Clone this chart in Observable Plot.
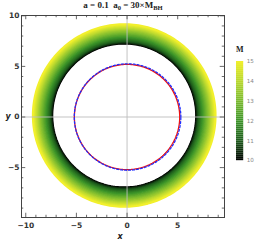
<!DOCTYPE html>
<html><head><meta charset="utf-8">
<script src="https://cdn.jsdelivr.net/npm/d3@7"></script>
<script src="https://cdn.jsdelivr.net/npm/@observablehq/plot@0.6"></script>
<style>
body{margin:0;background:#fff;}
#wrap{position:relative;width:260px;height:247px;overflow:hidden;font-family:"DejaVu Sans",sans-serif;}
#main,#bar{position:absolute;}
#title{position:absolute;left:0;width:246px;top:0;text-align:center;font-family:"Liberation Serif",serif;font-weight:bold;font-size:9px;color:#222;white-space:pre;}
#title sub{font-size:6.5px;vertical-align:-2px;}
#mlab{position:absolute;left:236px;top:45px;font-family:"Liberation Serif",serif;font-weight:bold;font-size:8px;color:#222;}
</style></head>
<body><div id="wrap"><div id="title">a = 0.1  a<sub>0</sub> = 30×M<sub>BH</sub></div><div id="mlab">M</div><div id="main"></div><div id="bar"></div></div>
<script>
// ---- data ----
const ringM = [10,10.25,10.5,10.75,11,11.25,11.5,11.75,12,12.25,12.5,12.75,13,13.25,13.5,13.75,14,14.25,14.5,14.75,15];
const ringR = [7.10,7.15,7.21,7.28,7.36,7.45,7.55,7.65,7.76,7.87,7.98,8.09,8.20,8.31,8.42,8.53,8.63,8.73,8.83,8.93,9.02];
const ringCx = -0.28, ringCy = 0.15;
const redR = 5.2, redCx = 0, redCy = 0;
const blueR = 5.26, blueCx = 0.05, blueCy = 0;
const colorStopsM = [10,11,12,13,14,15];
const colorStops = ["#000000","#1d5c1c","#3c9428","#7aba2e","#bad82f","#f2f02c"];
const xTickLabels = [-10,-5,0,5];
const yTickLabels = [-5,0,5,10];
const xDomain = [-10.42, 9.62], yDomain = [-9.93, 10.03];

const N = 240;
function circle(cx, cy, r, extra) {
  const pts = [];
  for (let i = 0; i <= N; i++) {
    const t = 2 * Math.PI * i / N;
    pts.push({x: cx + r * Math.cos(t), y: cy + r * Math.sin(t), ...extra});
  }
  return pts;
}
const ringPts = ringM.flatMap((m, i) => circle(ringCx, ringCy, ringR[i], {m}));
const redPts = circle(redCx, redCy, redR, {});
const bluePts = circle(blueCx, blueCy, blueR, {});

const minorX = d3.range(-10, 10, 1), minorY = d3.range(-9, 11, 1);
const lx = 0.42, ly = 0.42, sx = 0.22, sy = 0.22;

const main = Plot.plot({
  width: 260, height: 247,
  marginLeft: 21, marginRight: 36, marginTop: 15, marginBottom: 30,
  x: {domain: xDomain, axis: null},
  y: {domain: yDomain, axis: null},
  color: {type: "linear", domain: colorStopsM, range: colorStops},
  style: {fontFamily: "DejaVu Sans, sans-serif"},
  marks: [
    Plot.line(ringPts, {x: "x", y: "y", z: "m", stroke: "m", strokeWidth: 2}),
    Plot.ruleX([0], {stroke: "#bcbcbc", strokeWidth: 0.9}),
    Plot.ruleY([0], {stroke: "#bcbcbc", strokeWidth: 0.9}),
    Plot.line(redPts, {x: "x", y: "y", stroke: "#ee1111", strokeWidth: 1.3}),
    Plot.line(bluePts, {x: "x", y: "y", stroke: "#1f2fff", strokeWidth: 1.3, strokeDasharray: "2,2"}),
    Plot.frame({stroke: "#444", strokeWidth: 1}),
    Plot.ruleX(minorX, {x: d => d, y1: yDomain[0], y2: d => yDomain[0] + (d % 5 === 0 ? ly : sy), stroke: "#444", strokeWidth: 0.8}),
    Plot.ruleX(minorX, {x: d => d, y1: yDomain[1], y2: d => yDomain[1] - (d % 5 === 0 ? ly : sy), stroke: "#444", strokeWidth: 0.8}),
    Plot.ruleY(minorY, {y: d => d, x1: xDomain[0], x2: d => xDomain[0] + (d % 5 === 0 ? lx : sx), stroke: "#444", strokeWidth: 0.8}),
    Plot.ruleY(minorY, {y: d => d, x1: xDomain[1], x2: d => xDomain[1] - (d % 5 === 0 ? lx : sx), stroke: "#444", strokeWidth: 0.8}),
    Plot.axisX(xTickLabels, {anchor: "bottom", tickSize: 0, tickPadding: 5, label: null, fontSize: 7.5, fontWeight: "bold", fill: "#333", tickFormat: d => d < 0 ? "−" + Math.abs(d) : String(d)}),
    Plot.axisY(yTickLabels, {anchor: "left", tickSize: 0, tickPadding: 2, label: null, fontSize: 7.5, fontWeight: "bold", fill: "#333", tickFormat: d => d < 0 ? "−" + Math.abs(d) : String(d)}),
    Plot.text(["x"], {frameAnchor: "bottom", dy: 21, dx: -3, text: d => d, fontStyle: "italic", fontWeight: "bold", fontSize: 8, fill: "#222"}),
    Plot.text(["y"], {frameAnchor: "left", dx: -16, text: d => d, fontStyle: "italic", fontWeight: "bold", fontSize: 8, fill: "#222"})
  ]
});
document.getElementById("main").appendChild(main);

// ---- colorbar legend ----
const barVals = d3.range(10, 15, 0.1);
const bar = Plot.plot({
  width: 30, height: 134,
  marginLeft: 0, marginRight: 21, marginTop: 5, marginBottom: 5,
  x: {domain: [0, 1], axis: null},
  y: {domain: [10, 15], axis: null},
  color: {type: "linear", domain: colorStopsM, range: colorStops},
  style: {fontFamily: "DejaVu Sans, sans-serif"},
  marks: [
    Plot.rect(barVals, {x1: 0, x2: 1, y1: d => d, y2: d => d + 0.1, fill: d => d + 0.05}),
    Plot.axisY([10, 11, 12, 13, 14, 15], {anchor: "right", tickSize: 0, tickPadding: 4, label: null, fontSize: 7, fill: "#888"})
  ]
});
const b = document.getElementById("bar");
b.style.left = "236px"; b.style.top = "57px";
b.appendChild(bar);
</script></body></html>
